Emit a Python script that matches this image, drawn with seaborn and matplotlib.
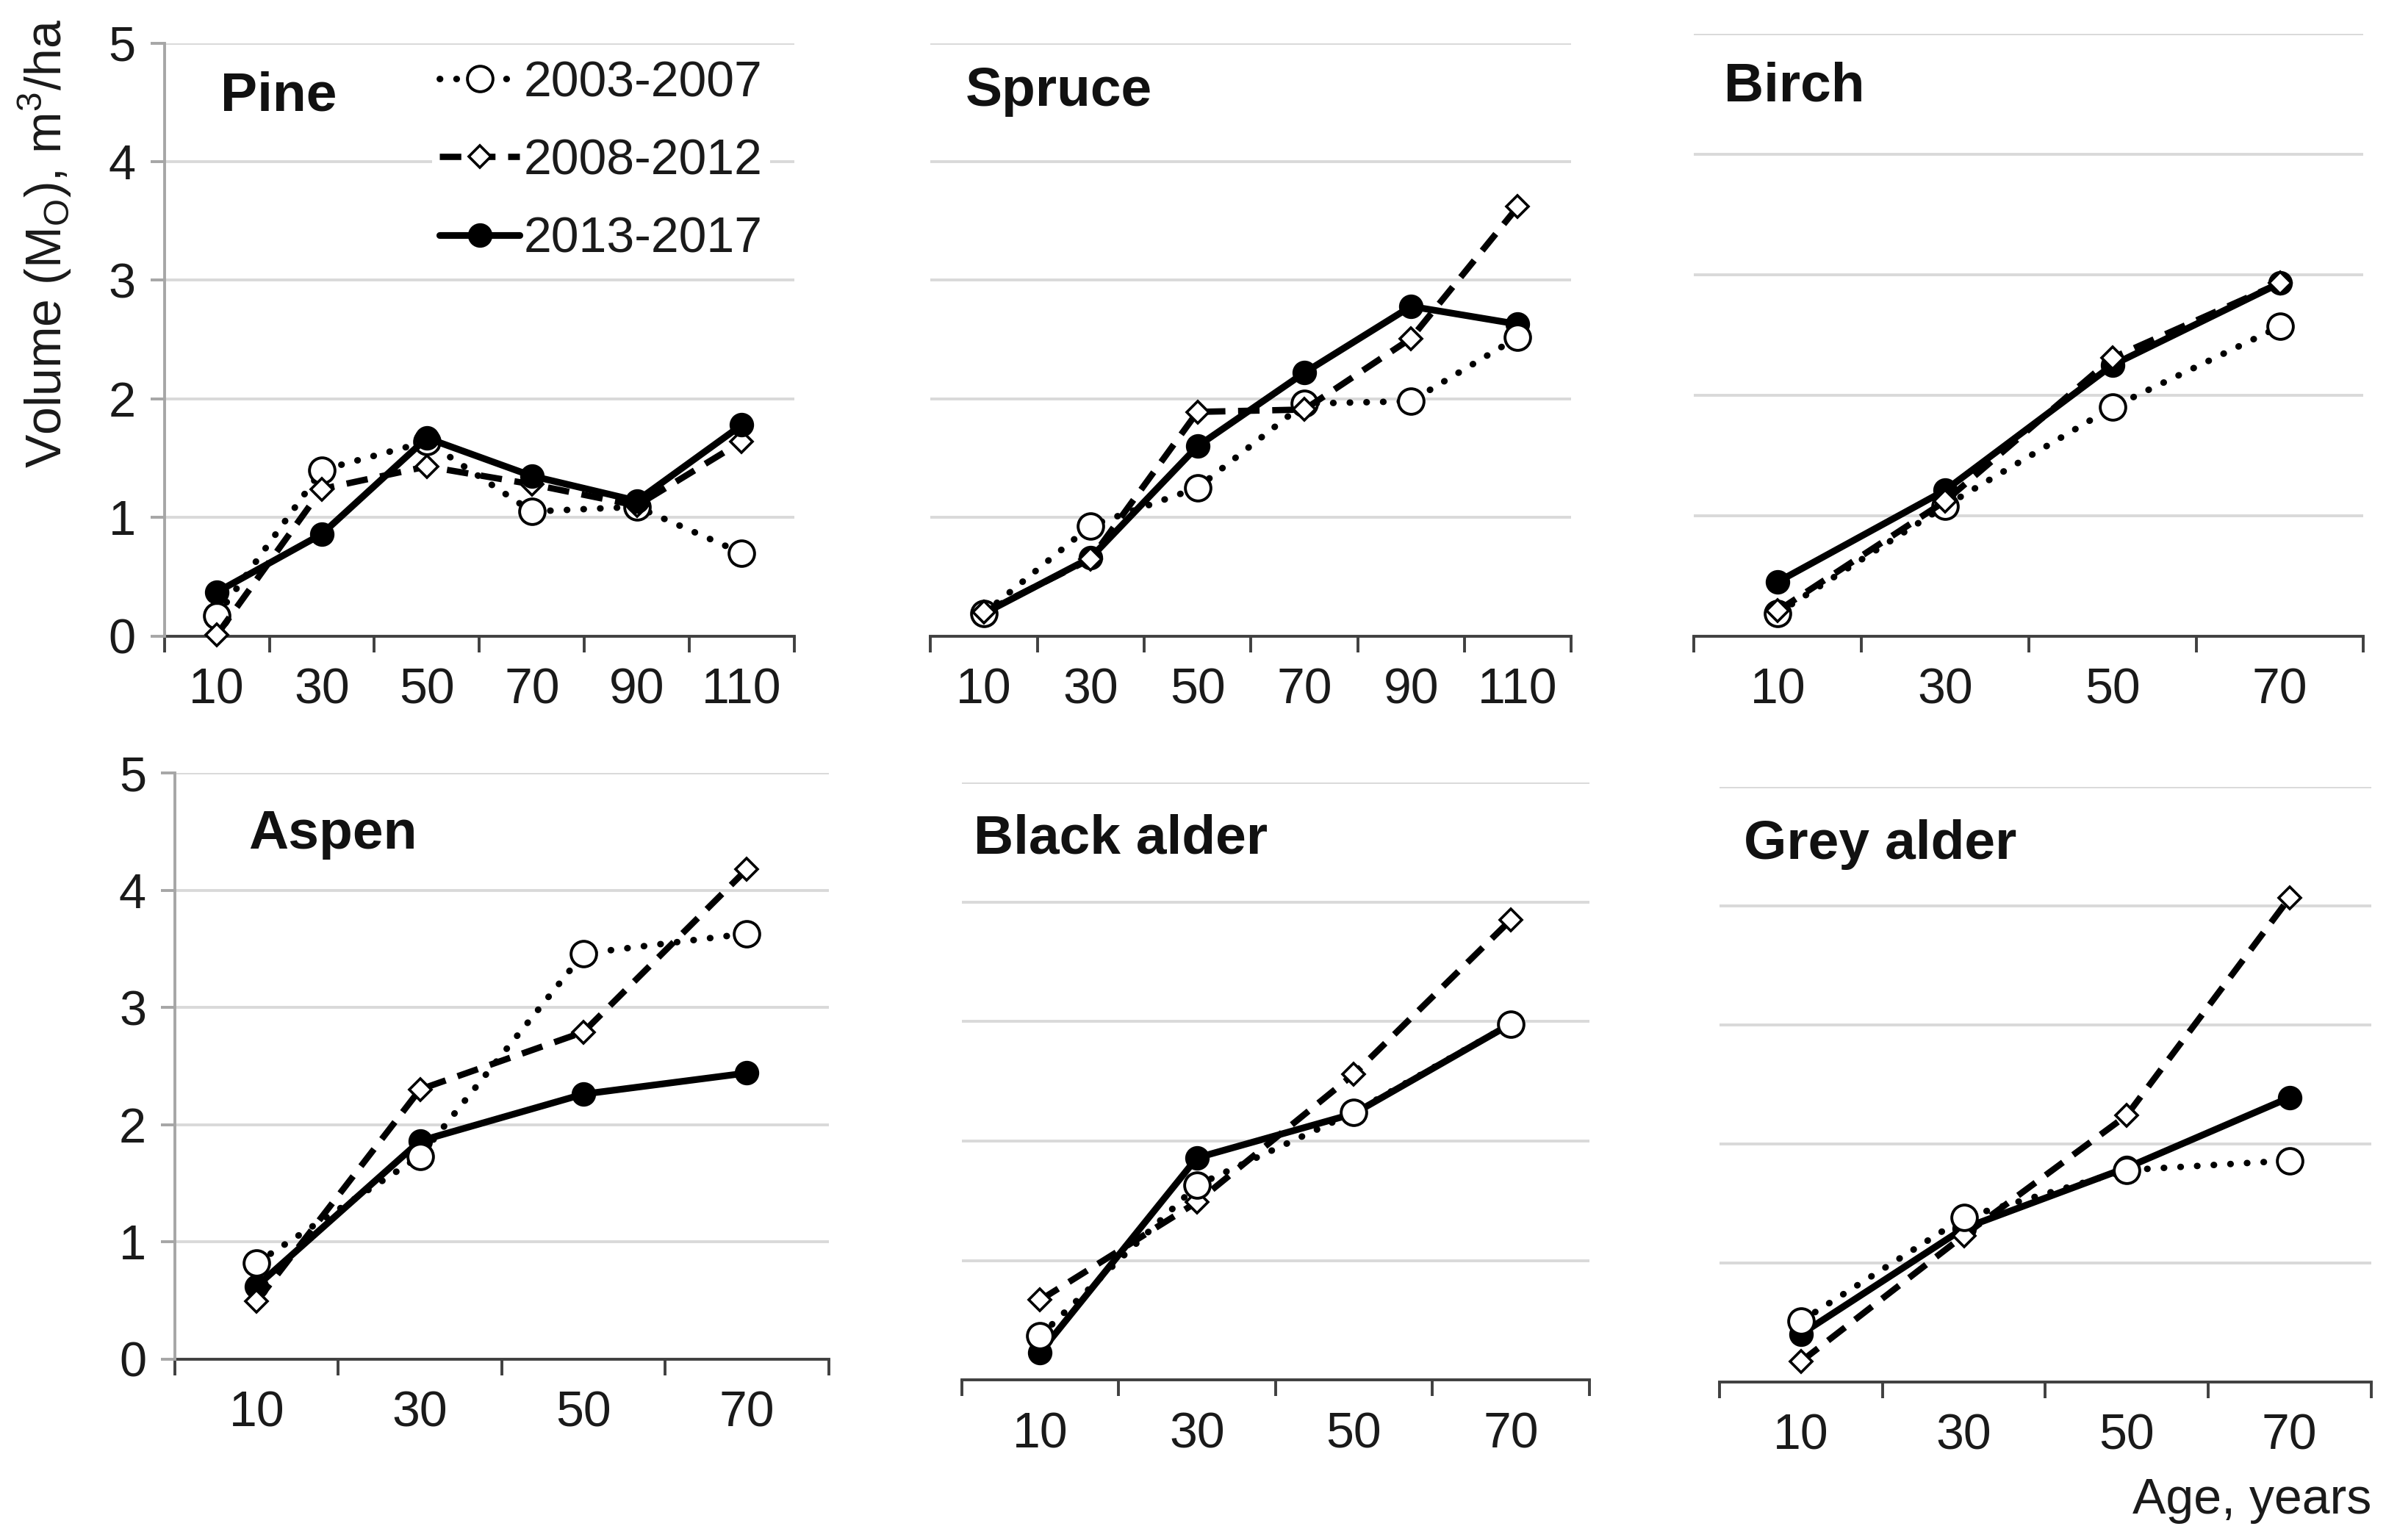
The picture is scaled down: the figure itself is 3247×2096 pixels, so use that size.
import pandas as pd
import seaborn as sns
import matplotlib.pyplot as plt

# ---- data ----
periods = ['2003-2007', '2008-2012', '2013-2017']

ages_long = [10, 30, 50, 70, 90, 110]
ages_short = [10, 30, 50, 70]

pine_0307 = [0.17, 1.40, 1.64, 1.05, 1.09, 0.70]
pine_0812 = [0.01, 1.24, 1.43, 1.28, 1.10, 1.64]
pine_1317 = [0.37, 0.86, 1.67, 1.35, 1.14, 1.78]

spruce_0307 = [0.19, 0.93, 1.25, 1.96, 1.98, 2.52]
spruce_0812 = [0.20, 0.65, 1.89, 1.91, 2.51, 3.62]
spruce_1317 = [0.19, 0.66, 1.60, 2.22, 2.78, 2.63]

birch_0307 = [0.19, 1.08, 1.90, 2.57]
birch_0812 = [0.21, 1.12, 2.31, 2.93]
birch_1317 = [0.45, 1.21, 2.25, 2.93]

aspen_0307 = [0.82, 1.73, 3.46, 3.63]
aspen_0812 = [0.49, 2.30, 2.79, 4.18]
aspen_1317 = [0.62, 1.86, 2.26, 2.44]

black_0307 = [0.37, 1.63, 2.24, 2.98]
black_0812 = [0.67, 1.49, 2.56, 3.85]
black_1317 = [0.23, 1.86, 2.23, 2.98]

grey_0307 = [0.51, 1.38, 1.78, 1.86]
grey_0812 = [0.17, 1.23, 2.24, 4.07]
grey_1317 = [0.40, 1.29, 1.80, 2.39]

y_ticks = [0, 1, 2, 3, 4, 5]


def create_plot():
    sns.set_style('white')
    plt.rcParams['font.family'] = ['Liberation Sans', 'DejaVu Sans']

    fig = plt.figure(figsize=(16.235, 10.48), dpi=200)

    # name, ages, series, axes rect, title position, zorders per period, show y axis
    panels = [
        ('Pine', ages_long, [pine_0307, pine_0812, pine_1317],
         [0.0689, 0.587, 0.264, 0.385], (0.089, 0.91), [3, 4, 5], True),
        ('Spruce', ages_long, [spruce_0307, spruce_0812, spruce_1317],
         [0.390, 0.587, 0.2685, 0.385], (0.055, 0.918), [4, 5, 3], False),
        ('Birch', ages_short, [birch_0307, birch_0812, birch_1317],
         [0.710, 0.587, 0.2806, 0.391], (0.045, 0.912), [4, 5, 3], False),
        ('Aspen', ages_short, [aspen_0307, aspen_0812, aspen_1317],
         [0.0733, 0.1176, 0.274, 0.3804], (0.112, 0.896), [4, 5, 3], True),
        ('Black alder', ages_short, [black_0307, black_0812, black_1317],
         [0.403, 0.1038, 0.263, 0.388], (0.019, 0.906), [5, 4, 3], False),
        ('Grey alder', ages_short, [grey_0307, grey_0812, grey_1317],
         [0.7207, 0.1028, 0.273, 0.386], (0.037, 0.903), [5, 4, 3], False),
    ]

    styles = [
        dict(linestyle=(0, (0.05, 2.5)), dash_capstyle='round', marker='o',
             markersize=12.5, markerfacecolor='white', markeredgecolor='black',
             markeredgewidth=1.4, linewidth=3.2),
        dict(linestyle=(0, (3.4, 2.0)), marker='D', markersize=7.5,
             markerfacecolor='white', markeredgecolor='black',
             markeredgewidth=1.3, linewidth=3.1),
        dict(linestyle='-', marker='o', markersize=11,
             markerfacecolor='black', markeredgecolor='black',
             markeredgewidth=1.0, linewidth=3.3),
    ]

    for name, ages, series, rect, tpos, zords, show_y in panels:
        ax = fig.add_axes(rect)
        n = len(ages)
        for period, vals, st, z in zip(periods, series, styles, zords):
            df = pd.DataFrame({'pos': list(range(n)), 'vol': vals})
            sns.lineplot(data=df, x='pos', y='vol', ax=ax, color='black',
                         label=period, legend=False, zorder=z, clip_on=False,
                         **st)

        ax.set_xlim(-0.5, n - 0.5)
        ax.set_ylim(0, 5)
        ax.set_xlabel('')
        ax.set_ylabel('')

        # x axis: tick marks between categories, labels under categories
        ax.set_xticks([i - 0.5 for i in range(n + 1)])
        ax.set_xticklabels([])
        ax.set_xticks(list(range(n)), minor=True)
        ax.set_xticklabels([str(a) for a in ages], minor=True)
        ax.tick_params(axis='x', which='major', direction='out', length=8,
                       width=1.4, color='#404040', bottom=True)
        ax.tick_params(axis='x', which='minor', length=0, pad=15,
                       labelsize=24.5, labelcolor='#1a1a1a')

        ax.set_yticks(y_ticks)
        ax.yaxis.grid(True, color='#d9d9d9', linewidth=1.4)
        ax.set_axisbelow(True)

        for s in ['top', 'right']:
            ax.spines[s].set_visible(False)
        ax.spines['bottom'].set_color('#404040')
        ax.spines['bottom'].set_linewidth(1.4)
        ax.spines['bottom'].set_zorder(2)

        if show_y:
            ax.spines['left'].set_color('#a6a6a6')
            ax.spines['left'].set_linewidth(1.4)
            ax.tick_params(axis='y', direction='out', length=7, width=1.4,
                           color='#a6a6a6', left=True, pad=7, labelsize=24,
                           labelcolor='#1a1a1a')
        else:
            ax.spines['left'].set_visible(False)
            ax.tick_params(axis='y', left=False, labelleft=False)

        ax.text(tpos[0], tpos[1], name, transform=ax.transAxes, fontsize=27,
                fontweight='bold', ha='left', va='center', color='#111111')

        if name == 'Pine':
            leg = ax.legend(loc='upper left', bbox_to_anchor=(0.425, 0.985),
                            fontsize=24.5, frameon=True, facecolor='white',
                            edgecolor='none', framealpha=1, borderpad=0.15,
                            borderaxespad=0, handlelength=1.6,
                            handletextpad=0.08, labelspacing=0.62, numpoints=1,
                            fancybox=False)
            leg.set_zorder(6)
            for t in leg.get_texts():
                t.set_color('#1a1a1a')

    fig.text(0.019, 0.842, r'Volume (M$_\mathregular{O}$), m$^\mathregular{3}$/ha',
             rotation=90, ha='center', va='center', fontsize=24.5,
             color='#1a1a1a')
    fig.text(0.994, 0.026, 'Age, years', ha='right', va='center', fontsize=24.5,
             color='#1a1a1a')

    fig.savefig('out.png', dpi=200, facecolor='white')


if __name__ == "__main__":
    create_plot()
